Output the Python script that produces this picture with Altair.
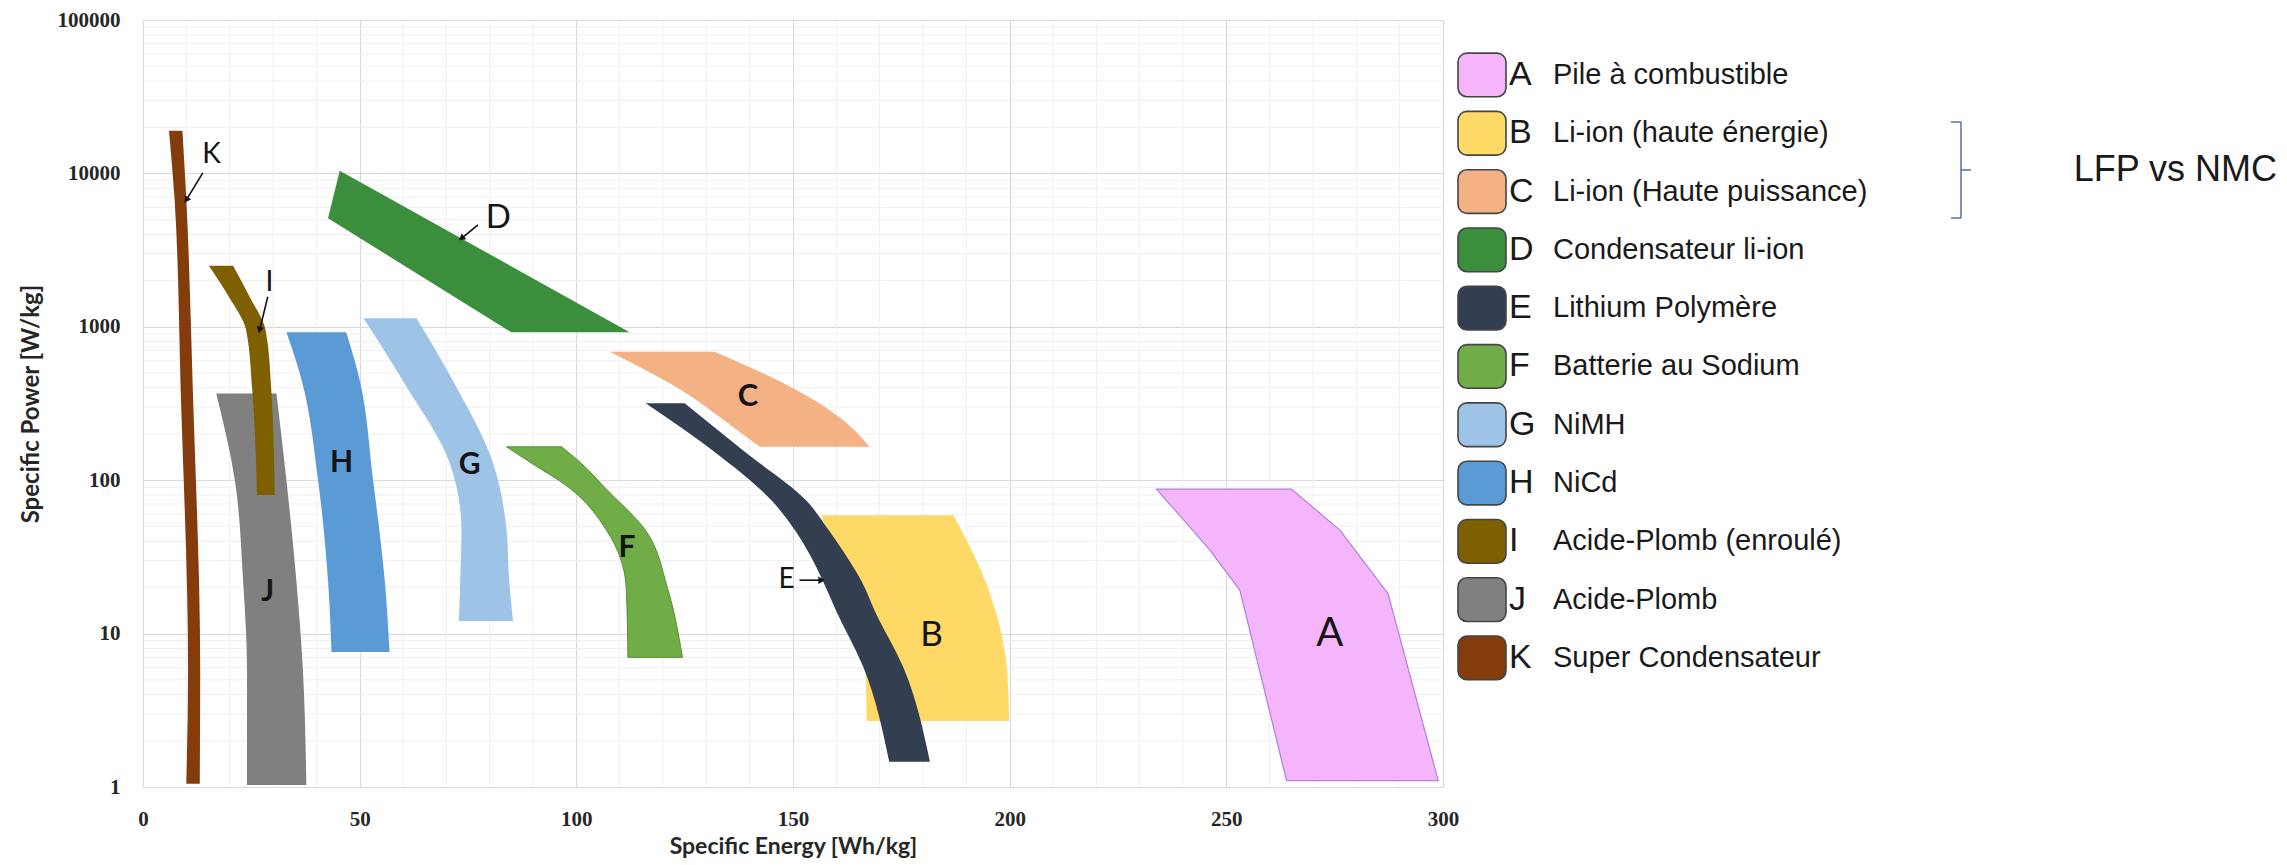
import altair as alt
import pandas as pd

# ---------------- data ----------------
keys = ["A", "B", "C", "D", "E", "F", "G", "H", "I", "J", "K"]
names = ["Pile à combustible", "Li-ion (haute énergie)", "Li-ion (Haute puissance)",
         "Condensateur li-ion", "Lithium Polymère", "Batterie au Sodium", "NiMH", "NiCd",
         "Acide-Plomb (enroulé)", "Acide-Plomb", "Super Condensateur"]
fills = ["#F5B5FB", "#FFD966", "#F4B183", "#3B8E3B", "#333F50", "#70AD47",
         "#9DC3E6", "#5B9BD5", "#7F6000", "#808080", "#843C0C"]

# each region: power levels [W/kg] with left / right specific-energy edge [Wh/kg]
A_power = [87.5, 47.3, 35, 19.2, 18.3, 1.1]
A_left = [233.9, 242.2, 246.2, 253.1, 253.3, 263.9]
A_right = [265.0, 276.2, 279.7, 286.7, 287.3, 298.9]

B_power = [59.2, 21.2, 6.1, 2.69]
B_left = [156.6, 161.5, 166.7, 167.0]
B_right = [187.0, 194.6, 199.3, 199.9]

C_power = [688, 377, 247, 165]
C_left = [107.7, 124.8, 134.0, 142.3]
C_right = [131.9, 151.5, 161.5, 167.7]

D_power = [10400, 5100, 920]
D_left = [45.4, 42.7, 85.0]
D_right = [45.4, 65.1, 112.3]

E_power = [318, 150, 74, 47, 33, 22, 14, 6.07, 1.46]
E_left = [116.0, 132.3, 145.0, 150.5, 153.8, 156.9, 160.0, 166.2, 172.2]
E_right = [125.0, 139.3, 153.0, 158.3, 162.0, 165.8, 168.9, 175.4, 181.6]

F_power = [165, 130, 90, 47, 20, 7]
F_left = [83.9, 89.5, 98.2, 107.0, 111.5, 111.9]
F_right = [96.6, 101.0, 106.5, 116.0, 121.0, 124.5]

G_power = [1135, 420, 129, 47, 22, 12.1]
G_left = [50.9, 60.5, 70.8, 73.5, 73.2, 72.9]
G_right = [63.1, 72.0, 80.8, 83.9, 84.5, 85.4]

H_power = [920, 450, 100, 22, 7.6]
H_left = [33.1, 36.6, 40.4, 42.7, 43.5]
H_right = [46.9, 50.0, 53.1, 55.8, 56.9]

I_power = [2500, 1570, 950, 390, 80]
I_left = [15.2, 19.8, 23.8, 25.2, 26.3]
I_right = [20.8, 24.6, 28.3, 29.6, 30.4]

J_power = [368, 100, 22, 5.8, 1.03]
J_left = [16.9, 21.2, 23.1, 24.0, 24.0]
J_right = [30.8, 33.1, 35.4, 36.9, 37.7]

K_power = [19000, 6700, 385, 5.8, 1.05]
K_left = [6.0, 7.3, 8.7, 10.4, 10.0]
K_right = [9.1, 10.0, 11.5, 13.2, 13.1]

regions = {
    "A": (A_power, A_left, A_right), "B": (B_power, B_left, B_right),
    "C": (C_power, C_left, C_right), "D": (D_power, D_left, D_right),
    "E": (E_power, E_left, E_right), "F": (F_power, F_left, F_right),
    "G": (G_power, G_left, G_right), "H": (H_power, H_left, H_right),
    "I": (I_power, I_left, I_right), "J": (J_power, J_left, J_right),
    "K": (K_power, K_left, K_right),
}
draw_order = ["K", "J", "I", "H", "G", "D", "F", "C", "B", "E", "A"]
smooth = {"B", "C", "E", "F", "G", "H", "I", "J", "K"}

# in-plot letters
lab_text = ["A", "B", "C", "D", "E", "F", "G", "H", "I", "J", "K"]
lab_energy = [273.9, 182.0, 139.6, 82.0, 148.5, 111.7, 75.4, 45.8, 29.2, 28.8, 15.8]
lab_power = [10, 9.77, 350, 5100, 22.3, 35.9, 125, 129, 1923, 18.7, 13200]
lab_size = [40, 35, 31, 33, 28, 30, 30, 30, 28, 30, 28]
lab_bold = [False, False, True, False, False, True, True, True, False, True, False]

# arrows (K, D, I, E)
arr_e0 = [13.8, 77.3, 28.8, 151.5]
arr_p0 = [10070, 4616, 1571, 22.3]
arr_e1 = [10.0, 73.5, 26.9, 156.6]
arr_p1 = [6715, 3776, 952, 22.3]
arr_angle = [212, 231, 194, 90]

x_ticks = [0, 50, 100, 150, 200, 250, 300]
y_ticks = [1, 10, 100, 1000, 10000, 100000]
minor_x = [10, 20, 30, 40, 60, 70, 80, 90, 110, 120, 130, 140, 160, 170, 180, 190,
           210, 220, 230, 240, 260, 270, 280, 290]
minor_y = [m * d for d in [1, 10, 100, 1000, 10000] for m in [2, 3, 4, 5, 6, 7, 8, 9]]

# ---------------- encodings ----------------
xs = alt.Scale(domain=[0, 300], nice=False, zero=False)
ys = alt.Scale(type="log", domain=[1, 100000], nice=False)
common_axis = dict(grid=True, gridColor="#D9D9D9", gridWidth=1, ticks=False, tickSize=0,
                   domainColor="#D9D9D9", labelFont="Liberation Serif", labelFontWeight="bold",
                   labelFontSize=21, labelColor="#262626", labelFlush=False,
                   titleFont="Lato", titleFontWeight="bold", titleColor="#262626")
xaxis = alt.Axis(values=x_ticks, title="Specific Energy [Wh/kg]", labelPadding=21,
                 titlePadding=6, titleFontSize=23, **common_axis)
yaxis = alt.Axis(values=y_ticks, format="d", title="Specific Power [W/kg]",
                 labelPadding=23, titlePadding=14, titleFontSize=24, **common_axis)


def X(f="x"):
    return alt.X(f"{f}:Q", scale=xs, axis=xaxis)


def Y(f="y"):
    return alt.Y(f"{f}:Q", scale=ys, axis=yaxis)


layers = []
layers.append(alt.Chart(pd.DataFrame({"x": minor_x})).mark_rule(color="#EFEFEF", strokeWidth=1)
              .encode(x=X()))
layers.append(alt.Chart(pd.DataFrame({"y": minor_y})).mark_rule(color="#EFEFEF", strokeWidth=1)
              .encode(y=Y()))

for k in draw_order:
    p, l, r = regions[k]
    df = pd.DataFrame({"y": p, "x": l, "x2": r})
    col = fills[keys.index(k)]
    kw = dict(color=col, opacity=1, orient="horizontal",
              interpolate="monotone" if k in smooth else "linear")
    if k == "A":
        kw.update(stroke="#B07FE0", strokeWidth=1.2)
    if k == "F":
        kw.update(stroke="#5A8F38", strokeWidth=1)
    layers.append(alt.Chart(df).mark_area(**kw).encode(y=Y(), x=X(), x2=alt.X2("x2:Q")))

lab_df = pd.DataFrame({"t": lab_text, "x": lab_energy, "y": lab_power, "fs": lab_size,
                       "b": lab_bold})
for bold in [False, True]:
    sub = lab_df[lab_df["b"] == bold]
    layers.append(alt.Chart(sub).mark_text(font="Lato", color="#141414",
                                           fontWeight="bold" if bold else "normal",
                                           baseline="middle", align="center")
                  .encode(x=X(), y=Y(), text="t:N", size=alt.Size("fs:Q", scale=None)))

arr_df = pd.DataFrame({"x": arr_e0, "y": arr_p0, "x2": arr_e1, "y2": arr_p1, "ang": arr_angle})
layers.append(alt.Chart(arr_df).mark_rule(color="#111111", strokeWidth=1.6)
              .encode(x=X(), y=Y(), x2=alt.X2("x2:Q"), y2=alt.Y2("y2:Q")))
layers.append(alt.Chart(arr_df).mark_point(shape="triangle-up", filled=True, color="#111111",
                                           size=55, opacity=1)
              .encode(x=X("x2"), y=Y("y2"), angle=alt.Angle("ang:Q", scale=None)))

main = alt.layer(*layers)

# ---------------- legend panel ----------------
leg_df = pd.DataFrame({"key": keys, "name": names, "fill": fills})
yb = alt.Y("key:N", scale=alt.Scale(domain=keys, range=[25.8, 667.1], paddingInner=0.25,
                                    paddingOuter=0.125), axis=None)
leg_rect = alt.Chart(leg_df).mark_rect(cornerRadius=9, stroke="#454545", strokeWidth=1.6).encode(
    y=yb, x=alt.value(1315), x2=alt.value(1363), fill=alt.Fill("fill:N", scale=None))
leg_letter = alt.Chart(leg_df).mark_text(align="left", baseline="middle", font="Liberation Sans",
                                         fontSize=34, color="#1a1a1a").encode(
    y=yb, x=alt.value(1366), text="key:N")
leg_name = alt.Chart(leg_df).mark_text(align="left", baseline="middle", font="Liberation Sans",
                                       fontSize=29, color="#1a1a1a").encode(
    y=yb, x=alt.value(1410), text="name:N")

brk_col = "#2F4F8F"
bracket = [
    alt.Chart(pd.DataFrame({"a": [0]})).mark_rule(color=brk_col, strokeWidth=1.2).encode(
        x=alt.value(1818), y=alt.value(102), y2=alt.value(198)),
    alt.Chart(pd.DataFrame({"a": [0]})).mark_rule(color=brk_col, strokeWidth=1.2).encode(
        x=alt.value(1808), x2=alt.value(1818), y=alt.value(102)),
    alt.Chart(pd.DataFrame({"a": [0]})).mark_rule(color=brk_col, strokeWidth=1.2).encode(
        x=alt.value(1808), x2=alt.value(1818), y=alt.value(198)),
    alt.Chart(pd.DataFrame({"a": [0]})).mark_rule(color=brk_col, strokeWidth=1.2).encode(
        x=alt.value(1818), x2=alt.value(1828), y=alt.value(150)),
]
lfp = alt.Chart(pd.DataFrame({"t": ["LFP vs NMC"]})).mark_text(
    align="right", baseline="middle", font="Liberation Sans", fontSize=36, color="#1a1a1a").encode(
    x=alt.value(2134), y=alt.value(150), text="t:N")

legend = alt.layer(leg_rect, leg_letter, leg_name, *bracket, lfp)

chart = alt.layer(main, legend).resolve_scale(y="independent", x="independent").properties(
    width=1300, height=767,
    autosize=alt.AutoSizeParams(type="none"),
    padding={"left": 135, "top": 12, "right": 836, "bottom": 76},
).configure_view(stroke=None).configure(background="white")

chart.save("out.html", embed_options={"renderer": "svg", "actions": False})
